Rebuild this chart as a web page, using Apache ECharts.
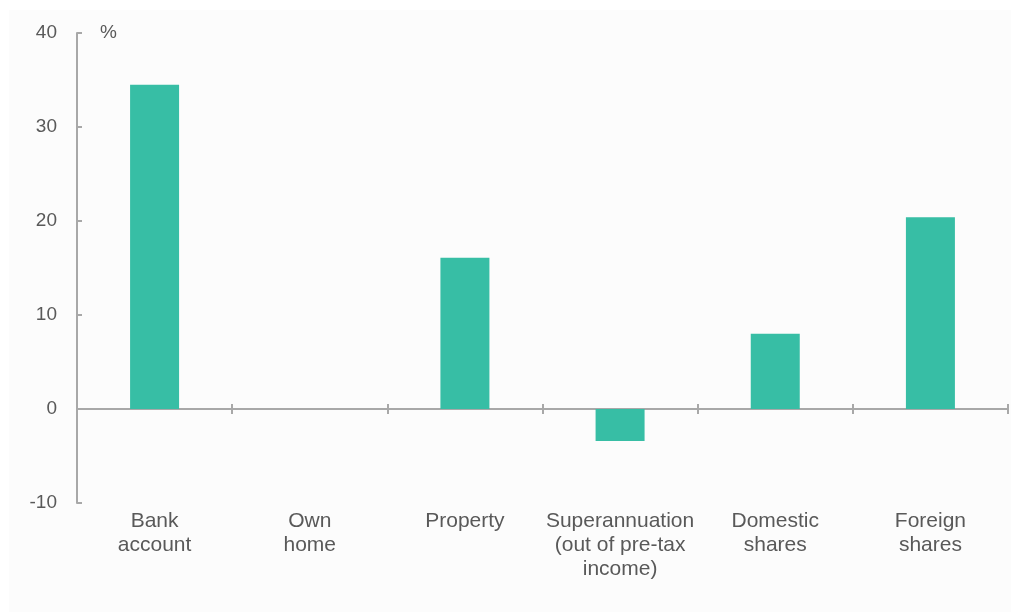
<!DOCTYPE html>
<html>
<head>
<meta charset="utf-8">
<script src="https://cdn.jsdelivr.net/npm/echarts@6/dist/echarts.min.js"></script>
<style>
html,body{margin:0;padding:0;background:#ffffff;}
#chart{width:1011px;height:612px;}
</style>
</head>
<body>
<div id="chart"></div>
<script>
const categories = ['Bank\naccount', 'Own\nhome', 'Property', 'Superannuation\n(out of pre-tax\nincome)', 'Domestic\nshares', 'Foreign\nshares'];
const values = [34.5, 0, 16.1, -3.4, 8.0, 20.4];
const yTicks = { min: -10, max: 40, interval: 10 };
const unitLabel = '%';

const axisColor = '#a8a8a8';
const textColor = '#595959';
const font = 'Liberation Sans, Arial, sans-serif';
const gridBox = { left: 77, right: 3, top: 33, bottom: 109, containLabel: false };

const chart = echarts.init(document.getElementById('chart'), null, { renderer: 'canvas' });
chart.setOption({
  backgroundColor: '#ffffff',
  animation: false,
  graphic: [
    { type: 'rect', z: -10, shape: { x: 9, y: 10, width: 1002, height: 602 }, style: { fill: '#fcfcfc' } },
    { type: 'text', left: 100, top: 23, style: { text: unitLabel, fill: textColor, font: '19px ' + font } }
  ],
  grid: [Object.assign({}, gridBox), Object.assign({}, gridBox)],
  xAxis: [
    {
      gridIndex: 0, type: 'category', data: categories, position: 'bottom',
      axisLine: { onZero: true, lineStyle: { color: axisColor, width: 2 } },
      axisTick: { show: true, inside: false, length: 5, lineStyle: { color: axisColor, width: 2 } },
      axisLabel: { show: false }, splitLine: { show: false }
    },
    {
      gridIndex: 0, type: 'category', data: categories, position: 'bottom',
      axisLine: { show: false, onZero: false },
      axisTick: { show: false },
      axisLabel: { color: textColor, fontSize: 21, fontFamily: font, lineHeight: 24, margin: 6, interval: 0 },
      splitLine: { show: false }
    },
    {
      gridIndex: 1, type: 'category', data: categories, position: 'bottom',
      axisLine: { show: false, onZero: true },
      axisTick: { show: true, inside: true, length: 5, lineStyle: { color: axisColor, width: 2 } },
      axisLabel: { show: false }, splitLine: { show: false }
    }
  ],
  yAxis: [
    {
      gridIndex: 0, type: 'value', min: yTicks.min, max: yTicks.max, interval: yTicks.interval,
      axisLine: { show: true, onZero: false, lineStyle: { color: axisColor, width: 2 } },
      axisTick: { show: true, inside: true, length: 5, lineStyle: { color: axisColor, width: 2 } },
      axisLabel: { color: textColor, fontSize: 19, fontFamily: font, margin: 20 },
      splitLine: { show: false }
    },
    {
      gridIndex: 1, type: 'value', min: yTicks.min, max: yTicks.max, interval: yTicks.interval,
      show: false
    }
  ],
  series: [{
    type: 'bar', data: values, xAxisIndex: 0, yAxisIndex: 0, barWidth: 49,
    itemStyle: { color: '#37bea5' }
  }]
});
</script>
</body>
</html>
